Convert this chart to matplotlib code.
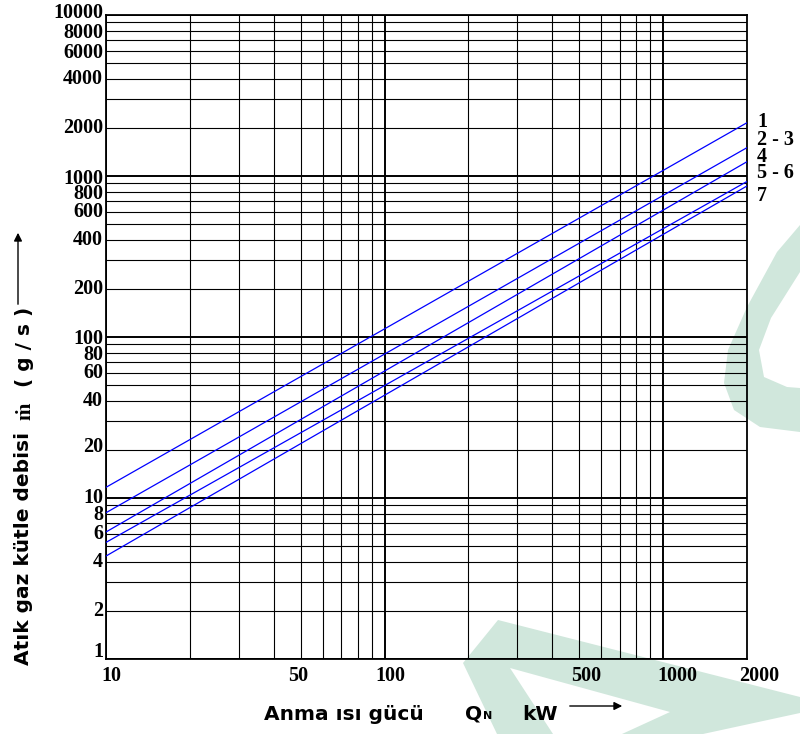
import numpy as np
import matplotlib
matplotlib.use("Agg")
import matplotlib.pyplot as plt
from matplotlib.patches import Polygon
from matplotlib.ticker import LogLocator, NullFormatter
from matplotlib.transforms import offset_copy

# veriler
qn_ends = [10, 2000]
line_names = ["1", "2 - 3", "4", "5 - 6", "7"]
mdot_start = [11.65, 8.1, 6.15, 5.3, 4.36]
mdot_end = [2143, 1500, 1227, 925, 867]

x_ticks = [10, 50, 100, 500, 1000, 2000]
x_ticklabels = ["10", "50", "100", "500", "1000", "2000"]
y_ticks = [1, 2, 4, 6, 8, 10, 20, 40, 60, 80, 100, 200, 400, 600, 800,
           1000, 2000, 4000, 6000, 8000, 10000]
y_ticklabels = [str(v) for v in y_ticks]

W, H = 800, 734


def fxy(x, y):
    # piksel (sol ust koseden) -> figure fraction
    return (x / W, 1 - y / H)


fig = plt.figure(figsize=(8, 7.34), dpi=100)
fig.patch.set_facecolor("white")

# arka plandaki yesil filigran
green = "#d0e7dc"
outer_a = [(498, 620), (800, 697), (800, 734), (497, 734), (463, 663)]
hole_a = [(510, 668), (670, 712), (622, 734), (553, 734)]
hole_b = [(703, 734), (800, 713), (800, 734)]
crescent = [(800, 225), (777, 252), (747, 307), (728, 350), (724, 383),
            (734, 410), (760, 427), (800, 432),
            (800, 388), (787, 387), (764, 377), (759, 350), (771, 318),
            (800, 272)]
for pts, col in [(outer_a, green), (hole_a, "white"), (hole_b, "white"),
                 (crescent, green)]:
    fig.add_artist(Polygon([fxy(*p) for p in pts], closed=True,
                           transform=fig.transFigure, facecolor=col,
                           edgecolor="none", zorder=-5))

ax = fig.add_axes([106 / W, 1 - 659 / H, (747 - 106) / W, (659 - 15) / H])
ax.set_facecolor("none")
ax.set_xscale("log")
ax.set_yscale("log")
ax.set_xlim(10, 2000)
ax.set_ylim(1, 10000)

for a in (ax.xaxis, ax.yaxis):
    a.set_major_locator(LogLocator(base=10, numticks=100))
    a.set_minor_locator(LogLocator(base=10, subs=np.arange(2, 10), numticks=100))
    a.set_minor_formatter(NullFormatter())
ax.tick_params(which="both", length=0, labelbottom=False, labelleft=False)
ax.grid(which="major", color="black", lw=1.4)
ax.grid(which="minor", color="black", lw=0.8)
for s in ax.spines.values():
    s.set_linewidth(1.3)
    s.set_color("black")

# mavi egriler
for y0, y1 in zip(mdot_start, mdot_end):
    ax.plot(qn_ends, [y0, y1], color="#0000ff", lw=0.9, zorder=3)

tick_font = dict(family="Liberation Serif", weight="bold", size=14.5)

# x eksen etiketleri (orijinalde biraz kaymis)
x_shift = [5, -2.5, 5.5, 7, 14.5, 12]
for v, lab, dx in zip(x_ticks, x_ticklabels, x_shift):
    tr = offset_copy(ax.get_xaxis_transform(), fig=fig,
                     x=dx * 0.72, y=-17 * 0.72, units="points")
    ax.text(v, 0, lab, transform=tr, ha="center", va="center", **tick_font)

# y eksen etiketleri (piksel kaymalari, + yukari)
y_shift = {1: 7, 8: -1, 20: 3, 80: -2, 100: -2.5, 800: -2, 1000: -3,
           6000: -2, 8000: -2, 10000: 2.5}
for v, lab in zip(y_ticks, y_ticklabels):
    dy = y_shift.get(v, 0)
    tr = offset_copy(ax.get_yaxis_transform(), fig=fig,
                     x=-3 * 0.72, y=dy * 0.72, units="points")
    ax.text(0, v, lab, transform=tr, ha="right", va="center", **tick_font)

# egri numaralari
label_y = [122, 140, 157, 173, 196]
for name, yy in zip(line_names, label_y):
    fig.text(*fxy(757, yy), name, ha="left", va="center", **tick_font)

# eksen basliklari
lab_font = dict(family="DejaVu Sans", weight="bold", size=14.5)
fig.text(*fxy(24, 548), "Atık gaz kütle debisi", rotation=90,
         ha="center", va="center", **lab_font)
fig.text(*fxy(25, 411), "ṁ", rotation=90, ha="center", va="center",
         family=["Liberation Serif", "DejaVu Serif"], weight="bold", size=15)
fig.text(*fxy(24, 347), "( g / s )", rotation=90, ha="center",
         va="center", **lab_font)
fig.add_artist(plt.Annotation("", xy=fxy(18, 230), xytext=fxy(18, 307),
                              xycoords="figure fraction",
                              arrowprops=dict(arrowstyle="-|>", color="black",
                                              lw=1.0, mutation_scale=12)))

fig.text(*fxy(264, 720), "Anma ısı gücü", ha="left", va="baseline", **lab_font)
fig.text(*fxy(465, 720), "Q", ha="left", va="baseline", **lab_font)
fig.text(*fxy(483, 719), "N", ha="left", va="baseline",
         family="DejaVu Sans", weight="bold", size=8)
fig.text(*fxy(522, 720), "kW", ha="left", va="baseline", **lab_font)
fig.add_artist(plt.Annotation("", xy=fxy(625, 706), xytext=fxy(567, 706),
                              xycoords="figure fraction",
                              arrowprops=dict(arrowstyle="-|>", color="black",
                                              lw=1.0, mutation_scale=12)))

fig.savefig("out.png", dpi=100, facecolor="white")
